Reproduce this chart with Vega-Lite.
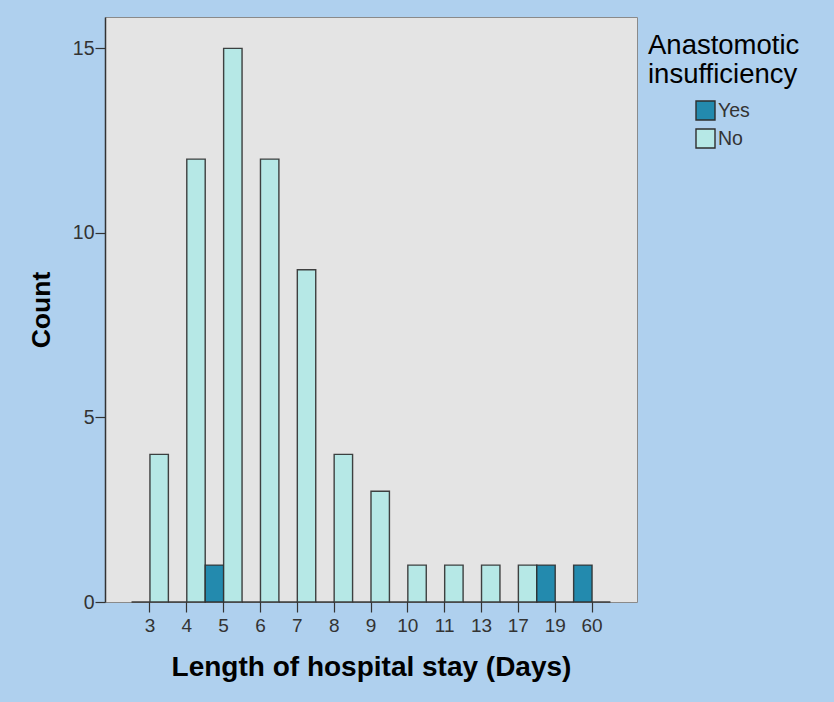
{
  "$schema": "https://vega.github.io/schema/vega-lite/v6.json",
  "width": 532,
  "height": 585,
  "autosize": {"type": "none"},
  "padding": {"left": 105, "top": 17, "right": 197, "bottom": 100},
  "background": "#afd0ee",
  "config": {
    "font": "Liberation Sans",
    "view": {"fill": "#e4e4e4", "stroke": "#8a8a8a", "strokeWidth": 1}
  },
  "data": {
    "values": [
      {"days": 3, "ai": "Yes", "count": 0},
      {"days": 3, "ai": "No", "count": 4},
      {"days": 4, "ai": "Yes", "count": 0},
      {"days": 4, "ai": "No", "count": 12},
      {"days": 5, "ai": "Yes", "count": 1},
      {"days": 5, "ai": "No", "count": 15},
      {"days": 6, "ai": "Yes", "count": 0},
      {"days": 6, "ai": "No", "count": 12},
      {"days": 7, "ai": "Yes", "count": 0},
      {"days": 7, "ai": "No", "count": 9},
      {"days": 8, "ai": "Yes", "count": 0},
      {"days": 8, "ai": "No", "count": 4},
      {"days": 9, "ai": "Yes", "count": 0},
      {"days": 9, "ai": "No", "count": 3},
      {"days": 10, "ai": "Yes", "count": 0},
      {"days": 10, "ai": "No", "count": 1},
      {"days": 11, "ai": "Yes", "count": 0},
      {"days": 11, "ai": "No", "count": 1},
      {"days": 13, "ai": "Yes", "count": 0},
      {"days": 13, "ai": "No", "count": 1},
      {"days": 17, "ai": "Yes", "count": 0},
      {"days": 17, "ai": "No", "count": 1},
      {"days": 19, "ai": "Yes", "count": 1},
      {"days": 19, "ai": "No", "count": 0},
      {"days": 60, "ai": "Yes", "count": 1},
      {"days": 60, "ai": "No", "count": 0}
    ]
  },
  "mark": {"type": "bar", "stroke": "#2e2e2e", "strokeWidth": 1.4, "strokeOpacity": 0.9, "opacity": 1},
  "encoding": {
    "x": {
      "field": "days",
      "type": "ordinal",
      "sort": [3, 4, 5, 6, 7, 8, 9, 10, 11, 13, 17, 19, 60],
      "scale": {"paddingInner": 0, "paddingOuter": 0.72},
      "axis": {
        "title": "Length of hospital stay (Days)",
        "titleFont": "Liberation Sans",
        "titleFontSize": 28,
        "titleFontWeight": "bold",
        "titleColor": "#000000",
        "titlePadding": 18,
        "labelAngle": 0,
        "labelFontSize": 19,
        "labelColor": "#333333",
        "labelPadding": 4,
        "tickSize": 10,
        "tickColor": "#333333",
        "tickWidth": 1.2,
        "domain": false
      }
    },
    "xOffset": {"field": "ai", "sort": ["Yes", "No"]},
    "y": {
      "field": "count",
      "type": "quantitative",
      "scale": {"domain": [0, 15.85], "nice": false},
      "axis": {
        "title": "Count",
        "titleFontSize": 26.5,
        "titleFontWeight": "bold",
        "titleColor": "#000000",
        "titlePadding": 17,
        "values": [0, 5, 10, 15],
        "grid": false,
        "labelFontSize": 19.5,
        "labelColor": "#333333",
        "labelPadding": 1,
        "tickSize": 10,
        "tickColor": "#333333",
        "tickWidth": 1.2,
        "domainColor": "#333333",
        "domainWidth": 1.5
      }
    },
    "color": {
      "field": "ai",
      "type": "nominal",
      "scale": {"domain": ["Yes", "No"], "range": ["#238aae", "#b6e8e6"]},
      "legend": {
        "title": ["Anastomotic", "insufficiency"],
        "orient": "none",
        "legendX": 543,
        "legendY": 15,
        "titleFontSize": 27.5,
        "titleFontWeight": "normal",
        "titleColor": "#000000",
        "titleLineHeight": 28.5,
        "titlePadding": 12,
        "symbolType": "square",
        "symbolSize": 361,
        "symbolStrokeColor": "#2e2e2e",
        "symbolStrokeWidth": 1.4,
        "symbolOpacity": 1,
        "symbolOffset": 47,
        "labelFontSize": 19.5,
        "labelColor": "#333333",
        "labelOffset": 2,
        "rowPadding": 3
      }
    }
  }
}
